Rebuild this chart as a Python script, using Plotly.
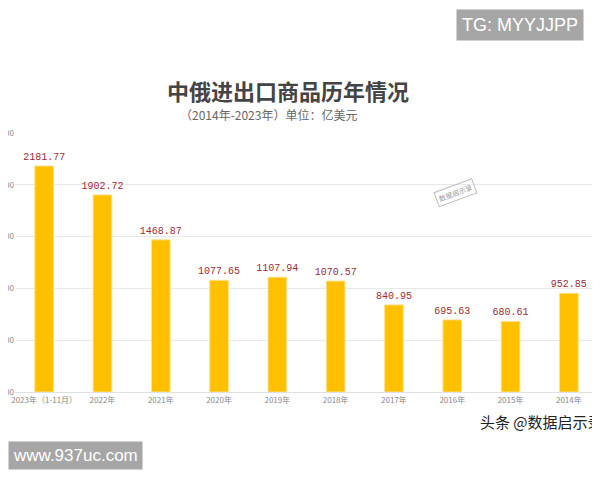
import plotly.graph_objects as go

categories = ["2023年（1-11月）", "2022年", "2021年", "2020年", "2019年",
              "2018年", "2017年", "2016年", "2015年", "2014年"]
values = [2181.77, 1902.72, 1468.87, 1077.65, 1107.94, 1070.57, 840.95, 695.63, 680.61, 952.85]
y_ticks = [0, 500, 1000, 1500, 2000, 2500]

# page body adds an 8px offset; figure is sized to the visible window
OFF = 8
W, H = 592, 472
L, R, T, B = 15 - OFF, 10 - OFF, 133 - OFF, H - (392 - OFF)

fig = go.Figure(go.Bar(
    x=categories, y=values,
    marker=dict(color="#FFC000", line=dict(color="#FFE08A", width=1)),
    text=[f"{v:.2f}" for v in values], textposition="outside",
    textfont=dict(family="Liberation Mono", size=10, color="#9B2A35"),
    constraintext="none",
    cliponaxis=False,
))

def px_ann(text, x, y, xanchor="center", **kw):
    x -= OFF
    y -= OFF
    return dict(text=text, xref="paper", yref="paper",
                x=(x - L) / (W - L - R), y=(H - B - y) / (H - T - B),
                xanchor=xanchor, yanchor="middle", showarrow=False, **kw)

fig.update_layout(
    width=W, height=H,
    paper_bgcolor="white", plot_bgcolor="white",
    margin=dict(l=L, r=R, t=T, b=B),
    bargap=0.68,
    showlegend=False,
    xaxis=dict(tickfont=dict(size=8, color="#888", family="Noto Sans CJK SC"),
               showline=True, linecolor="#e0e0e0", ticks=""),
    yaxis=dict(range=[0, 2500], tickvals=y_ticks, tickformat=".2f",
               tickfont=dict(size=8, color="#888"), gridcolor="#e8e8e8",
               zeroline=False, automargin=False),
    font=dict(family="Noto Sans CJK SC"),
    annotations=[
        px_ann("<b>中俄进出口商品历年情况</b>", 288, 90, font=dict(size=22, color="#444")),
        px_ann("（2014年-2023年）单位：亿美元", 268, 115, font=dict(size=12, color="#666")),
        px_ann("TG: MYYJJPP", 520, 25, bgcolor="#a6a6a6",
               font=dict(size=18, color="white", family="Liberation Sans"), borderpad=5),
        px_ann("www.937uc.com", 75, 455, bgcolor="#a6a6a6",
               font=dict(size=17, color="white", family="Liberation Sans"), borderpad=4),
        px_ann("数据启示录", 455, 193, textangle=-20,
               font=dict(size=7, color="#999"), bordercolor="#bbb", borderwidth=1, borderpad=2),
        px_ann("头条 @数据启示录", 478, 421, xanchor="left",
               font=dict(size=15, color="#222")),
    ],
)

fig.write_html("out.html")
